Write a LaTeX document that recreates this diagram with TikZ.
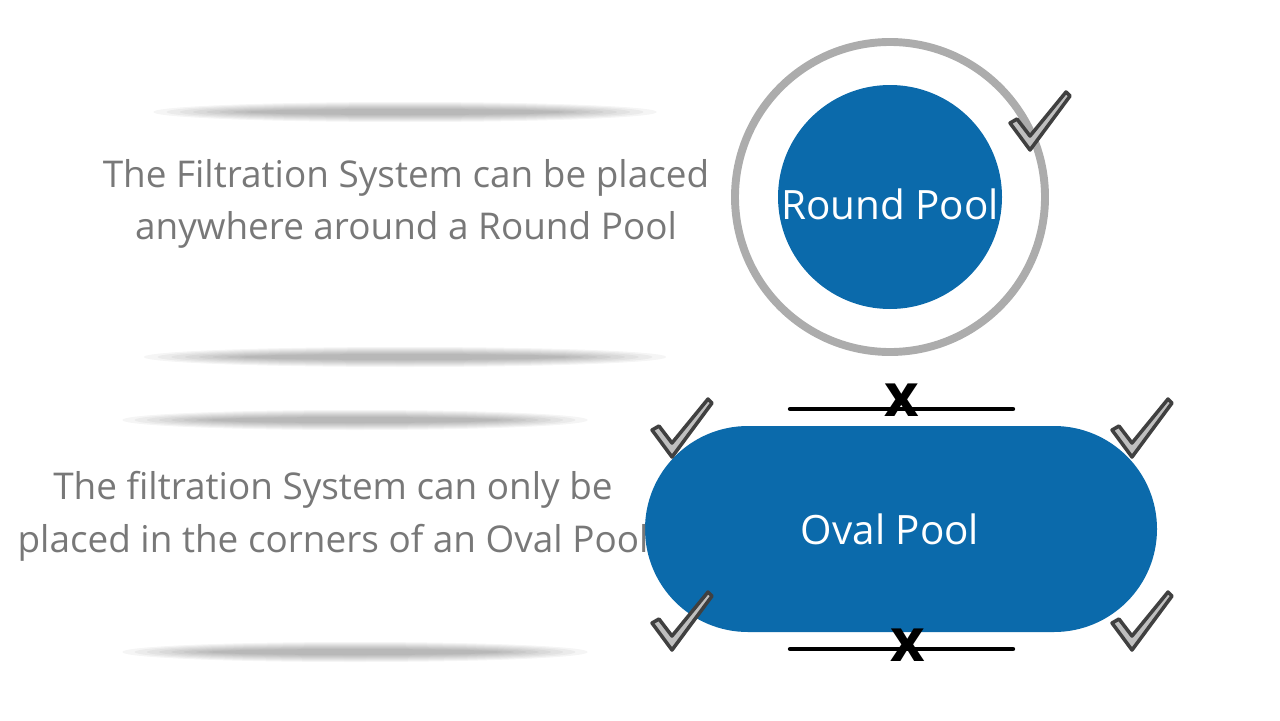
\documentclass[tikz,border=0pt]{standalone}
\usepackage{fontspec}
\setmainfont{Open Sans}
\usetikzlibrary{positioning}
\definecolor{poolblue}{RGB}{11,106,171}
\definecolor{txtgray}{RGB}{120,120,120}
\tikzset{
  pool/.style={fill=poolblue, draw=none},
  pooltext/.style={text=white, font=\fontsize{23}{26}\selectfont},
  sidetext/.style={text=txtgray, align=center, font=\fontsize{21}{30}\selectfont},
  rail/.style={line width=2.5pt, line cap=round},
  nope/.style={font=\fontsize{34}{34}\selectfont\bfseries},
  check/.pic={
    \filldraw[fill=gray!50, draw=black!75, line width=2pt, line join=round]
      (0,0) -- (-20,-27) -- (-13,-31) -- (0,-14) -- (36,-58) -- (40,-54) -- cycle;
  }
}
\begin{document}
\begin{tikzpicture}[x=0.02cm, y=-0.02cm]
	\useasboundingbox (0,0) rectangle (1280,720);
	%shadow bars
	\foreach \xa/\xb/\yy in {140/670/112, 130/680/357, 110/600/420, 110/600/652}{
	  \foreach \k in {1,...,8}
	    \fill[black, opacity=0.04] ({(\xa+\xb)/2},\yy) ellipse ({(\xb-\xa)/2*(1-\k*0.05)} and {11-\k});
	}
	%round pool
	\draw[gray!65, line width=4.5pt] (890,197) circle (155);
	\fill[pool] (890,197) circle (112);
	\node[pooltext] (round) at (890,204) {Round Pool};
	\pic at (1030,150) {check};
	%oval pool
	\fill[pool, rounded corners=2.06cm] (645,426) rectangle (1157,632);
	\node[pooltext] (oval) at (890,529) {Oval Pool};
	\coordinate (tl) at (790,409); \coordinate (tr) at (1013,409);
	\coordinate (bl) at (790,649); \coordinate (br) at (1013,649);
	\draw[rail] (tl) -- (tr);
	\draw[rail] (bl) -- (br);
	\node[nope] (xtop) at (902,400) {x};
	\node[nope] (xbot) at (908,645) {x};
	\pic at (672,457) {check};
	\pic at (1132,457) {check};
	\pic at (672,650) {check};
	\pic at (1132,650) {check};
	%texts
	\node[sidetext] (roundtxt) at (406,204) {The Filtration System can be placed\\anywhere around a Round Pool};
	\node[sidetext] (ovaltxt) at (333,516) {The filtration System can only be\\placed in the corners of an Oval Pool};
\end{tikzpicture}
\end{document}
